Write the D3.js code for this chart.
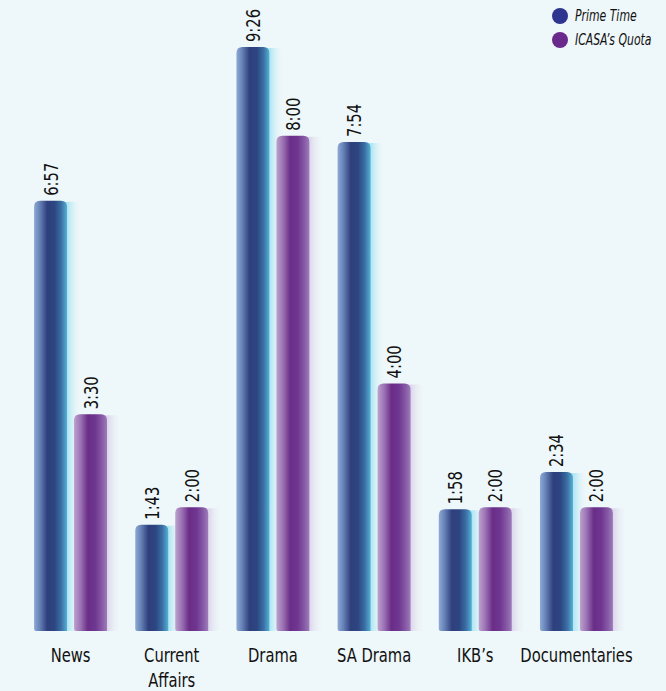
<!DOCTYPE html>
<html>
<head>
<meta charset="utf-8">
<script src="https://cdn.jsdelivr.net/npm/d3@7"></script>
<style>
  html, body { margin: 0; padding: 0; background: #eef7f9; }
  svg { display: block; }
</style>
</head>
<body>
<svg id="chart" width="666" height="691"></svg>
<script>
// Airtime per genre, in minutes (labels shown as h:mm)
const categories = ["News", "Current Affairs", "Drama", "SA Drama", "IKB\u2019s", "Documentaries"];
const seriesNames = ["Prime Time", "ICASA\u2019s Quota"];
const primeTime = [417, 103, 566, 474, 118, 154];
const icasaQuota = [210, 120, 480, 240, 120, 120];
const seriesValues = [primeTime, icasaQuota];

const svg = d3.select("#chart");
const defs = svg.append("defs");

const fmt = m => Math.floor(m / 60) + ":" + String(m % 60).padStart(2, "0");

const x = d3.scaleBand().domain(categories).range([28, 619]).paddingInner(0.279).paddingOuter(0.06);
const xs = d3.scaleBand().domain(seriesNames).range([0, x.bandwidth()]).paddingInner(0.175);
const y = d3.scaleLinear().domain([0, 600]).range([631, 12]);

// Bar body gradients and the soft glow strip to the right of each bar
const bodyStops = [
  [[0, "#8eaad5"], [0.18, "#6480b6"], [0.4, "#2f3f7c"], [0.62, "#2c4682"], [0.82, "#3b6ea3"], [1, "#55b0d6"]],
  [[0, "#bda2cd"], [0.2, "#9b72b4"], [0.42, "#6a2d88"], [0.65, "#6f3791"], [0.85, "#875aa6"], [1, "#9d7cbb"]]
];
const glowColor = ["#9fe2f1", "#d9d0e9"];
bodyStops.forEach((stops, i) => {
  const g = defs.append("linearGradient").attr("id", "body" + i).attr("x1", 0).attr("x2", 1).attr("y1", 0).attr("y2", 0);
  stops.forEach(s => g.append("stop").attr("offset", s[0]).attr("stop-color", s[1]));
  const gl = defs.append("linearGradient").attr("id", "glow" + i).attr("x1", 0).attr("x2", 1).attr("y1", 0).attr("y2", 0);
  gl.append("stop").attr("offset", 0).attr("stop-color", glowColor[i]).attr("stop-opacity", 1);
  gl.append("stop").attr("offset", 0.35).attr("stop-color", glowColor[i]).attr("stop-opacity", 0.75);
  gl.append("stop").attr("offset", 1).attr("stop-color", "#eef7f9").attr("stop-opacity", 0);
});

function barPath(x0, w, top, bottom, r, rb) {
  return `M${x0},${bottom - rb}` +
    `L${x0},${top + r}` +
    `Q${x0},${top} ${x0 + r},${top}` +
    `L${x0 + w - r},${top}` +
    `Q${x0 + w},${top} ${x0 + w},${top + r}` +
    `L${x0 + w},${bottom}` +
    `L${x0 + rb},${bottom}` +
    `Q${x0},${bottom} ${x0},${bottom - rb}Z`;
}

const groups = svg.append("g").selectAll("g")
  .data(categories)
  .join("g")
  .attr("transform", d => `translate(${x(d)},0)`);

// condensed look: a condensed face squeezed a little further along the text direction
const labelFont = "'Liberation Sans Narrow', 'DejaVu Sans Condensed', sans-serif";
const squeeze = 0.82;

seriesNames.forEach((s, si) => {
  const bw = xs.bandwidth();
  // glow strip
  groups.append("path")
    .attr("d", (d, i) => barPath(xs(s) + bw - 6, 20, y(seriesValues[si][i]) + 1, y(0), 6, 0))
    .attr("fill", `url(#glow${si})`);
  // bar body
  groups.append("path")
    .attr("d", (d, i) => barPath(xs(s), bw, y(seriesValues[si][i]), y(0), 6, 2))
    .attr("fill", `url(#body${si})`);
  // value label
  groups.append("text")
    .attr("transform", (d, i) => `translate(${xs(s) + bw / 2 + 7},${y(seriesValues[si][i]) - 5}) rotate(-90) scale(${squeeze},1)`)
    .attr("font-family", labelFont)
    .attr("font-size", 20)
    .attr("fill", "#111")
    .text((d, i) => fmt(seriesValues[si][i]));
});

// category labels
const catLabels = svg.append("g").selectAll("text")
  .data(categories)
  .join("text")
  .attr("transform", d => `translate(${x(d) + x.bandwidth() / 2},662) scale(${squeeze},1)`)
  .attr("text-anchor", "middle")
  .attr("font-family", labelFont)
  .attr("font-size", 20)
  .attr("fill", "#111");
catLabels.each(function (d) {
  const parts = d === "Current Affairs" ? ["Current", "Affairs"] : [d];
  const t = d3.select(this);
  parts.forEach((p, k) => {
    t.append("tspan").attr("x", 0).attr("dy", k === 0 ? 0 : 25).text(p);
  });
});

// legend
const legendColors = ["#2e3590", "#6a2a8c"];
const legend = svg.append("g").selectAll("g")
  .data(seriesNames)
  .join("g")
  .attr("transform", (d, i) => `translate(560,${16 + i * 24})`);
legend.append("circle").attr("r", 8).attr("fill", (d, i) => legendColors[i]);
legend.append("text")
  .attr("transform", "translate(15,5) scale(0.78,1)")
  .attr("font-family", labelFont)
  .attr("font-style", "italic")
  .attr("font-size", 15.5)
  .attr("fill", "#111")
  .text(d => d);
</script>
</body>
</html>
